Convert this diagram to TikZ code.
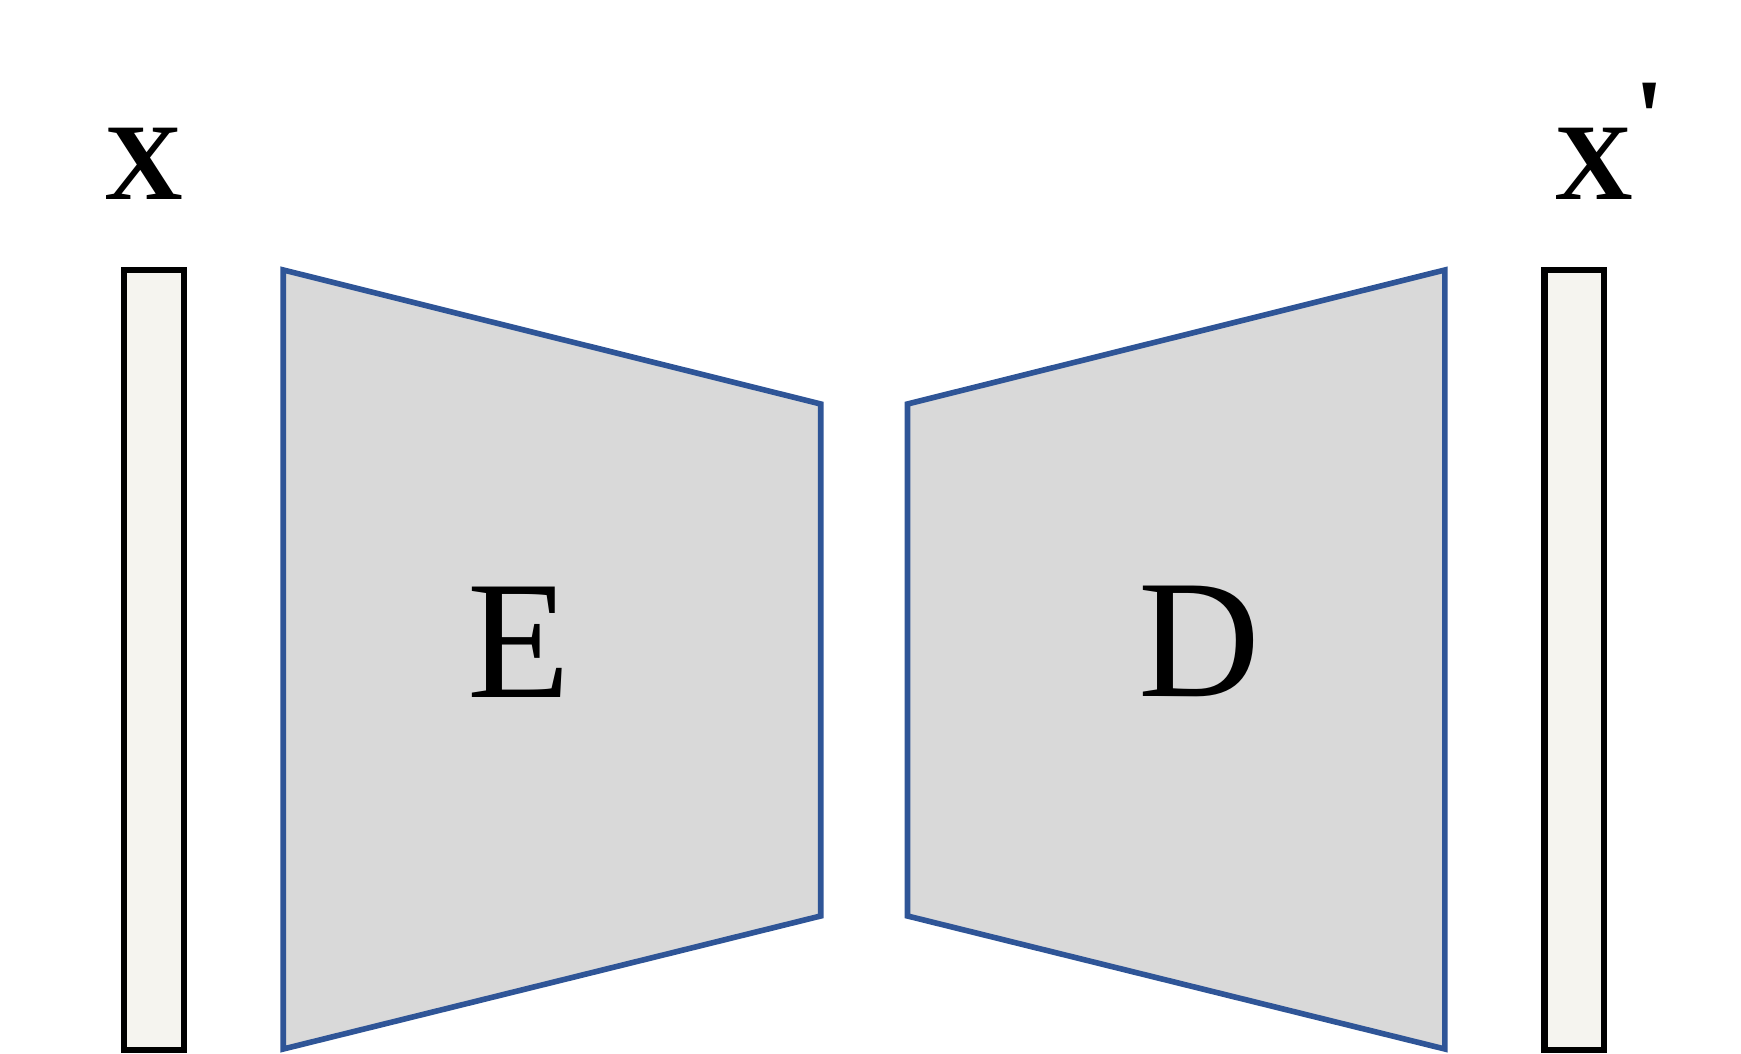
\documentclass[tikz,border=0pt]{standalone}
\usepackage{fontspec}
\setmainfont{Liberation Serif}
\usepackage{tikz}
\usetikzlibrary{positioning}
\definecolor{barfill}{HTML}{F5F4EF}
\definecolor{blockfill}{HTML}{D9D9D9}
\definecolor{blockline}{HTML}{2F5597}

\begin{document}
\begin{tikzpicture}[
    vecbar/.style={draw=black, fill=barfill, line width=1.8pt},
    coder/.style={draw=blockline, fill=blockfill, line width=1.6pt, line join=miter},
    varlabel/.style={inner sep=0pt, font=\fontsize{31}{31}\selectfont\bfseries},
    blocklabel/.style={inner sep=0pt, font=\fontsize{48}{48}\selectfont}
  ]
  \useasboundingbox (0,0) rectangle (17.41,10.54);

  % Input / output vectors
  \draw[vecbar] (1.243, 0.043) rectangle (1.837, 7.837);
  \draw[vecbar] (15.445, 0.043) rectangle (16.039, 7.837);

  % Encoder and decoder
  \draw[coder] (2.833, 7.84) -- (8.207, 6.50) -- (8.207, 1.38) -- (2.833, 0.05) -- cycle;
  \draw[coder] (9.075, 6.50) -- (14.449, 7.84) -- (14.449, 0.05) -- (9.075, 1.38) -- cycle;

  % Labels
  \node[varlabel] (xin) at (1.438, 8.897) {X};
  \node[varlabel] (xout) at (15.938, 8.897) {X\rlap{\kern0.01em\smash{\raisebox{0.42em}{\textquotesingle}}}};
  \node[blocklabel] (enc) at (5.19, 4.122) {E};
  \node[blocklabel] (dec) at (11.99, 4.122) {D};
\end{tikzpicture}
\end{document}
